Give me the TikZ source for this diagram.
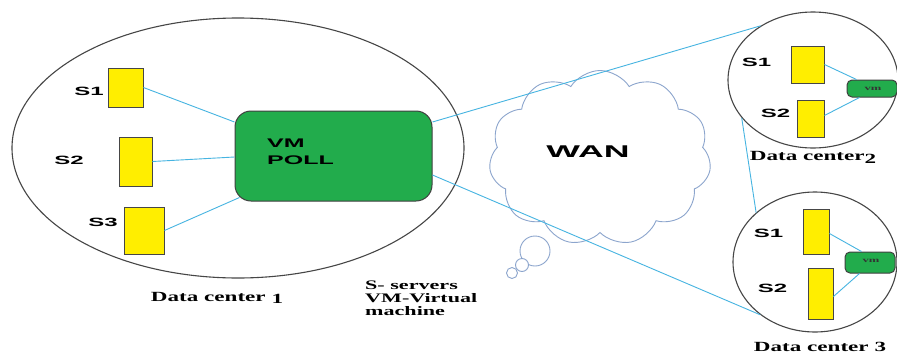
\documentclass[tikz,border=0pt]{standalone}
\usepackage{fontspec}
\usepackage{graphicx}
\usetikzlibrary{shapes.geometric,shapes.symbols,calc}
\setmainfont{Liberation Serif}
\setsansfont{Liberation Sans}
\definecolor{srvyellow}{RGB}{255,238,0}
\definecolor{vmgreen}{RGB}{34,172,76}
\definecolor{linkblue}{RGB}{70,180,225}
\definecolor{cloudblue}{RGB}{140,165,205}
\definecolor{outline}{RGB}{70,70,70}
\newcommand{\hstretch}[2]{\scalebox{#1}[1]{#2}}
\begin{document}
\begin{tikzpicture}[x=1pt,y=-1pt,
  dcell/.style={ellipse,draw=outline,line width=1.1pt,inner sep=0pt},
  server/.style={rectangle,draw=outline,fill=srvyellow,line width=0.9pt,inner sep=0pt},
  vmbox/.style={rectangle,draw=black!75,fill=vmgreen,line width=1pt,inner sep=0pt},
  conn/.style={draw=linkblue,line width=0.9pt},
  slabel/.style={inner sep=0pt,font=\sffamily\bfseries\fontsize{12}{12}\selectfont},
  dclabel/.style={inner sep=0pt,font=\rmfamily\bfseries\fontsize{14}{14}\selectfont},
  bubble/.style={draw=cloudblue,line width=0.9pt,fill=white}]
\useasboundingbox (0,0) rectangle (897,354);
\fill[white] (0,0) rectangle (897,354);

% data centre outlines
\node[dcell,minimum width=452pt,minimum height=260pt] (dc1) at (238,148) {};
\node[dcell,minimum width=170pt,minimum height=136pt] (dc2) at (813,80) {};
\node[dcell,minimum width=164pt,minimum height=140pt] (dc3) at (815,262) {};

% WAN cloud
\node[cloud,cloud puffs=11,cloud puff arc=115,aspect=1.15,draw=cloudblue,line width=0.9pt,fill=white,
      minimum width=222pt,minimum height=175pt,inner sep=0pt] (cloud) at (600,158) {};
\node[bubble,circle,minimum size=30pt,inner sep=0pt] (b1) at (535,251) {};
\node[bubble,circle,minimum size=13pt,inner sep=0pt] (b2) at (522,265) {};
\node[bubble,circle,minimum size=11pt,inner sep=0pt] (b3) at (512,273) {};
\node[inner sep=0pt,font=\sffamily\bfseries\fontsize{17}{17}\selectfont] (wan) at (588,152) {\hstretch{2.1}{WAN}};

% data centre 1
\node[server,minimum width=35pt,minimum height=39pt] (a1) at (125.5,87.5) {};
\node[server,minimum width=33pt,minimum height=49pt] (a2) at (135.5,161.5) {};
\node[server,minimum width=40pt,minimum height=47pt] (a3) at (144,230.5) {};
\node[vmbox,minimum width=197pt,minimum height=90pt,rounded corners=16pt] (pool) at (333.5,156) {};
\node[anchor=west,inner sep=0pt,align=left,font=\sffamily\bfseries\fontsize{12.5}{16.5}\selectfont] (pooltxt) at (267,152) {\hstretch{2}{VM}\\\hstretch{2}{POLL}};
\node[slabel] (l1) at (89,91.5) {\hstretch{2}{S1}};
\node[slabel] (l2) at (69,160) {\hstretch{2}{S2}};
\node[slabel] (l3) at (103,222) {\hstretch{2}{S3}};
\draw[conn] (a1.east) -- ($(pool.west)+(0,-34)$);
\draw[conn] (a2.east) -- ($(pool.west)+(0,1)$);
\draw[conn] (a3.east) -- ($(pool.south west)+(5,-4)$);

% data centre 2
\node[server,minimum width=33pt,minimum height=37pt] (b21) at (807.5,64.5) {};
\node[server,minimum width=27pt,minimum height=37pt] (b22) at (810.5,118.5) {};
\node[vmbox,minimum width=50pt,minimum height=17pt,rounded corners=5pt] (vm2) at (872,88.5) {};
\node[inner sep=0pt,font=\rmfamily\bfseries\fontsize{7}{7}\selectfont,text=black!80] (vm2t) at (873,88.5) {\hstretch{1.8}{vm}};
\node[slabel] (l21) at (756.5,62) {\hstretch{2}{S1}};
\node[slabel] (l22) at (775.5,113) {\hstretch{2}{S2}};
\draw[conn] (b21.east) -- ($(vm2.north west)+(10,0)$);
\draw[conn] ($(b22.east)+(0,-3)$) -- ($(vm2.south west)+(13,0)$);

% data centre 3
\node[server,minimum width=26pt,minimum height=45pt] (b31) at (816,231.5) {};
\node[server,minimum width=25pt,minimum height=51pt] (b32) at (820.5,293.5) {};
\node[vmbox,minimum width=50pt,minimum height=21pt,rounded corners=5pt] (vm3) at (870,262.5) {};
\node[inner sep=0pt,font=\rmfamily\bfseries\fontsize{7}{7}\selectfont,text=black!80] (vm3t) at (871,261) {\hstretch{1.8}{vm}};
\node[slabel] (l31) at (768.5,233) {\hstretch{2}{S1}};
\node[slabel] (l32) at (772.5,288) {\hstretch{2}{S2}};
\draw[conn] ($(b31.east)+(0,2)$) -- ($(vm3.north west)+(17,0)$);
\draw[conn] ($(b32.east)+(0,3)$) -- ($(vm3.south west)+(15,0)$);

% WAN links
\draw[conn] ($(pool.east)+(0,-34)$) -- (dc2.134);
\draw[conn] ($(pool.east)+(0,19)$) -- (dc3.224);
\draw[conn] (dc2.208) -- (dc3.140);

% captions
\node[dclabel] (c1) at (217,298) {\hstretch{1.65}{Data center \raisebox{-1.5pt}{1}}};
\node[dclabel] (c2) at (813,157) {\hstretch{1.65}{Data center\raisebox{-3pt}{2}}};
\node[dclabel] (c3) at (820,347) {\hstretch{1.65}{Data center 3}};
\node[anchor=north west,inner sep=0pt,align=left,font=\rmfamily\bfseries\fontsize{13}{13}\selectfont] (legend) at (365,281) {\hstretch{1.7}{S- servers}\\\hstretch{1.7}{VM-Virtual}\\\hstretch{1.7}{machine}};
\end{tikzpicture}
\end{document}
